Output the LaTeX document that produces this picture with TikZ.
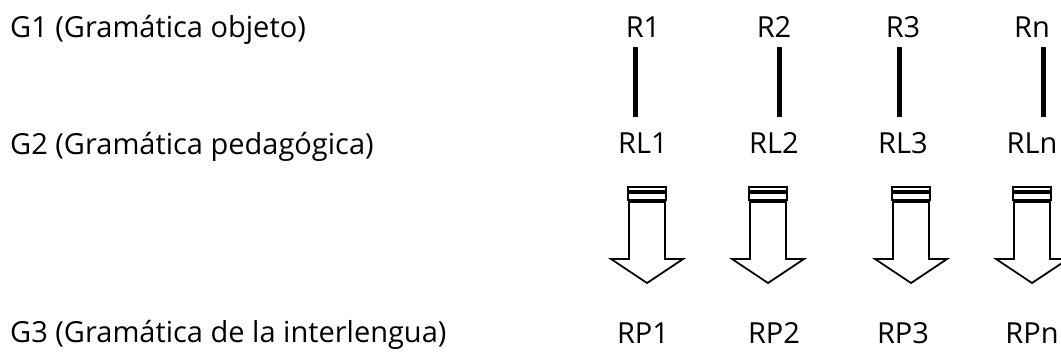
\documentclass[tikz,border=0pt]{standalone}
\usepackage{fontspec}
\setmainfont{Open Sans}
\usetikzlibrary{calc}
\begin{document}
\begin{tikzpicture}[x=1pt,y=-1pt,
  lbl/.style={inner sep=0pt,anchor=base,font=\fontsize{29}{32}\selectfont},
  glbl/.style={lbl,anchor=base west},
  link/.style={line width=5pt},
  bigarrow/.style={line width=1.8pt,line join=miter}]
\useasboundingbox (0,0) rectangle (1061,354);
\clip (0,0) rectangle (1061,354);

% grammar levels
\node[glbl] (g1) at (10,37)  {G1 (Gramática objeto)};
\node[glbl] (g2) at (10,154) {G2 (Gramática pedagógica)};
\node[glbl] (g3) at (10,342) {G3 (Gramática de la interlengua)};

% rules, pedagogical rules and interlanguage rules
\foreach \n/\x in {1/643,2/774,3/903,n/1032}{
  \node[lbl] (R\n)  at (\x,37)  {R\n};
  \node[lbl] (RL\n) at (\x,153) {RL\n};
  \node[lbl] (RP\n) at (\x,343) {RP\n};
}

% vertical links between R and RL
\foreach \n/\x in {1/635,2/779,3/899,n/1043}{
  \coordinate (t\n) at (\x,47);
  \coordinate (b\n) at (\x,117);
  \draw[link] (t\n) -- (b\n);
}

% striped block arrows from RL to RP
\foreach \n/\c in {1/647,2/768,3/911,n/1032}{
  \coordinate (a\n) at (\c,0);
  \draw[bigarrow] ($(a\n)+(-18,202)$) -- ++(36,0) -- ++(0,57) -- ++(18,0)
     -- ++(-36,24) -- ++(-36,-24) -- ++(18,0) -- cycle;
  \draw[bigarrow] ($(a\n)+(-19,193)$) rectangle ++(38,7);
  \draw[bigarrow] ($(a\n)+(-19,187)$) rectangle ++(38,4);
}
\end{tikzpicture}
\end{document}
